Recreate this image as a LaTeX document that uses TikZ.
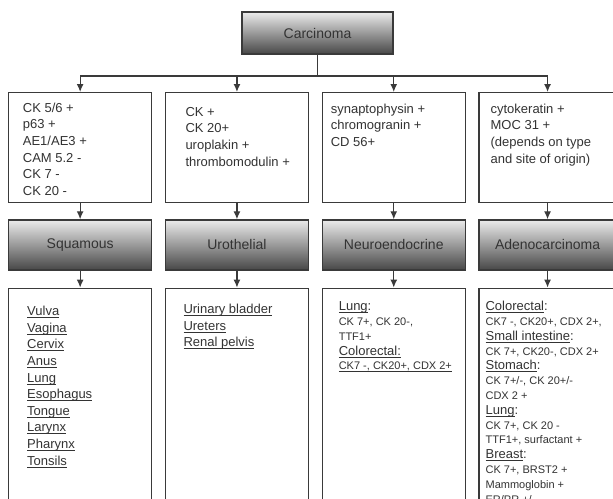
\documentclass[tikz,border=0pt]{standalone}
\usepackage{fontspec}
\setmainfont{Liberation Sans}
\usetikzlibrary{positioning, arrows.meta, calc}
\newcommand{\treearrow}{-{Latex[length=8pt,width=7pt]}}
\newsavebox{\underbox}
\newcommand{\site}[1]{\sbox{\underbox}{#1}\rlap{\rule[-2.4pt]{\wd\underbox}{0.9pt}}\usebox{\underbox}}
\newcommand{\organ}{\fontsize{13}{14.8}\selectfont}
\newcommand{\marker}{\fontsize{11}{14.8}\selectfont}
\definecolor{textgray}{HTML}{333333}
\definecolor{linegray}{HTML}{3A3A3A}

\tikzset{
    markerbox/.style={draw=linegray, line width=1.3pt, fill=white, inner sep=0pt,
        minimum height=110pt, anchor=north west},
    typebox/.style={draw=linegray, line width=1.3pt, top color=black!8, bottom color=black!72,
        inner sep=0pt, minimum height=50pt, text=textgray, font=\fontsize{14}{16}\selectfont},
    sitebox/.style={draw=linegray, line width=1.3pt, fill=white, inner sep=0pt,
        minimum height=225pt},
    % base of a multi-line node = baseline of its last line
    boxtext/.style={anchor=base west, align=left, inner sep=0pt, text=textgray,
        font=\fontsize{13}{16.7}\selectfont}
}

\begin{document}
\begin{tikzpicture}[x=1pt, y=-1pt]
    \useasboundingbox (0,0) rectangle (613,498);
    \clip (0,0) rectangle (613,498);

    % root
    \node[typebox, minimum width=151pt, minimum height=42pt] (carcinoma) at (317.5,33) {Carcinoma};
    \coordinate (split) at (317.5,76);

    % marker boxes
    \node[markerbox, minimum width=143pt] (sqmark) at (8,92) {};
    \node[markerbox, minimum width=143pt, right=12.5pt of sqmark] (uromark) {};
    \node[markerbox, minimum width=143pt, right=12.5pt of uromark] (neuromark) {};
    \node[markerbox, minimum width=137pt, right=12.5pt of neuromark] (adenomark) {};

    % type boxes
    \node[typebox, minimum width=143pt, below=16pt of sqmark] (sqtype) {Squamous};
    \node[typebox, minimum width=143pt, below=16pt of uromark] (urotype) {Urothelial};
    \node[typebox, minimum width=143pt, below=16pt of neuromark] (neurotype) {Neuroendocrine};
    \node[typebox, minimum width=137pt, below=16pt of adenomark] (adenotype) {Adenocarcinoma};

    % site boxes
    \node[sitebox, minimum width=143pt, below=17pt of sqtype] (sqsite) {};
    \node[sitebox, minimum width=143pt, below=17pt of urotype] (urosite) {};
    \node[sitebox, minimum width=143pt, below=17pt of neurotype] (neurosite) {};
    \node[sitebox, minimum width=137pt, below=17pt of adenotype] (adenosite) {};

    % connectors
    \draw[linegray, line width=1.3pt] (carcinoma.south) -- (split);
    \foreach \k in {sq, uro, neuro, adeno} {
        \draw[linegray, line width=1.3pt, \treearrow] (split) -| (\k mark.north);
        \draw[linegray, line width=1.3pt, \treearrow] (\k mark.south) -- (\k type.north);
        \draw[linegray, line width=1.3pt, \treearrow] (\k type.south) -- (\k site.north);
    }

    % marker texts
    \node[boxtext] (sqmarktext) at ($(sqmark.north west)+(14.7pt,-103.5pt)$)
        {CK 5/6 +\\ p63 +\\ AE1/AE3 +\\ CAM 5.2 -\\ CK 7 -\\ CK 20 -};
    \node[boxtext] (uromarktext) at ($(uromark.north west)+(20.5pt,-74.1pt)$)
        {CK +\\ CK 20+\\ uroplakin +\\ thrombomodulin +};
    \node[boxtext] (neuromarktext) at ($(neuromark.north west)+(9pt,-54.4pt)$)
        {synaptophysin +\\ chromogranin +\\ CD 56+};
    \node[boxtext] (adenomarktext) at ($(adenomark.north west)+(12pt,-71.1pt)$)
        {cytokeratin +\\ MOC 31 +\\ (depends on type\\ and site of origin)};

    % site texts
    \node[boxtext, font=\fontsize{13}{16.6}\selectfont] (sqsitetext) at ($(sqsite.north west)+(19pt,-177.4pt)$)
        {\site{Vulva}\\ \site{Vagina}\\ \site{Cervix}\\ \site{Anus}\\ \site{Lung}\\
         \site{Esophagus}\\ \site{Tongue}\\ \site{Larynx}\\ \site{Pharynx}\\ \site{Tonsils}};
    \node[boxtext, font=\fontsize{13}{16.6}\selectfont] (urositetext) at ($(urosite.north west)+(18.5pt,-59.2pt)$)
        {\site{Urinary bladder}\\ \site{Ureters}\\ \site{Renal pelvis}};
    \node[boxtext, font=\organ] (neurositetext) at ($(neurosite.north west)+(17pt,-82.2pt)$)
        {\organ\site{Lung}:\\ \marker CK 7+, CK 20-,\\ \marker TTF1+\\
         \organ\site{Colorectal:}\\ \marker\site{CK7 -, CK20+, CDX 2+}};
    \node[boxtext, font=\organ] (adenositetext) at ($(adenosite.north west)+(7pt,-215.4pt)$)
        {\organ\site{Colorectal}:\\ \marker CK7 -, CK20+, CDX 2+,\\
         \organ\site{Small intestine}:\\ \marker CK 7+, CK20-, CDX 2+\\
         \organ\site{Stomach}:\\ \marker CK 7+/-, CK 20+/-\\ \marker CDX 2 +\\
         \organ\site{Lung}:\\ \marker CK 7+, CK 20 -\\ \marker TTF1+, surfactant +\\
         \organ\site{Breast}:\\ \marker CK 7+, BRST2 +\\ \marker Mammoglobin +\\
         \marker ER/PR +/-};
\end{tikzpicture}
\end{document}
